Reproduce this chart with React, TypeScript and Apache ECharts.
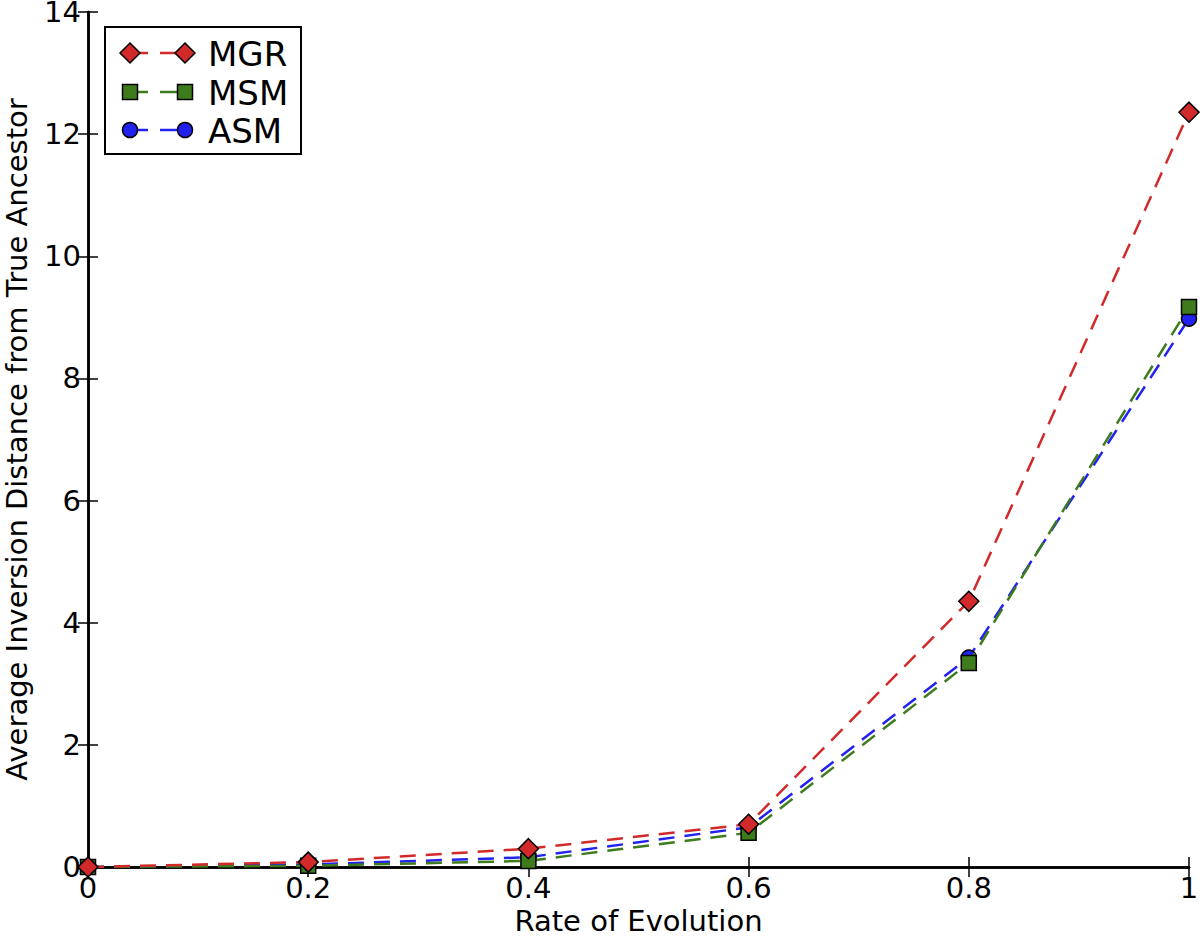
import React, { useEffect, useRef } from "react";
import * as echarts from "echarts";

const xValues = [0, 0.2, 0.4, 0.6, 0.8, 1.0];
const mgr = [0, 0.08, 0.3, 0.7, 4.35, 12.36];
const msm = [0, 0.02, 0.1, 0.56, 3.34, 9.17];
const asm = [0, 0.04, 0.16, 0.65, 3.43, 8.98];

const colors = { MGR: "#d22a2a", MSM: "#3d7b1c", ASM: "#2222f0" };
const FONT = "DejaVu Sans";

const pairs = (ys: number[]) => xValues.map((x, i) => [x, ys[i]]);

export default function App() {
  const ref = useRef<HTMLDivElement>(null);
  useEffect(() => {
    const chart = echarts.init(ref.current!, null, { renderer: "svg" });
    const axisLine = { show: true, lineStyle: { color: "#000", width: 2.5 } };
    const tick = { show: true, inside: true, length: 10, lineStyle: { color: "#000", width: 1.5 } };
    const lineStyle = (c: string) => ({ color: c, width: 2.5, type: [16, 10] as any });

    const legendRows = [
      { name: "MGR", y: 53 },
      { name: "MSM", y: 92 },
      { name: "ASM", y: 130 },
    ];
    const legendEls: any[] = [
      {
        type: "rect",
        shape: { x: 105, y: 27, width: 196, height: 127 },
        style: { fill: "#fff", stroke: "#000", lineWidth: 2 },
        z: 100,
      },
    ];
    legendRows.forEach((r) => {
      const c = (colors as any)[r.name];
      legendEls.push({ type: "line", shape: { x1: 136, y1: r.y, x2: 148, y2: r.y }, style: { stroke: c, lineWidth: 2.5 }, z: 101 });
      legendEls.push({ type: "line", shape: { x1: 160, y1: r.y, x2: 180, y2: r.y }, style: { stroke: c, lineWidth: 2.5 }, z: 101 });
      [130, 185].forEach((cx) => {
        let el: any;
        if (r.name === "MGR") {
          el = { type: "polygon", shape: { points: [[cx - 10, r.y], [cx, r.y - 10], [cx + 10, r.y], [cx, r.y + 10]] } };
        } else if (r.name === "MSM") {
          el = { type: "rect", shape: { x: cx - 7.5, y: r.y - 7.5, width: 15, height: 15 } };
        } else {
          el = { type: "circle", shape: { cx, cy: r.y, r: 7.5 } };
        }
        el.style = { fill: c, stroke: "#000", lineWidth: 1.5 };
        el.z = 102;
        legendEls.push(el);
      });
      legendEls.push({
        type: "text",
        x: 208,
        y: r.y + 1,
        style: { text: r.name, font: `34px '${FONT}'`, fill: "#000", verticalAlign: "middle", textAlign: "left" },
        z: 103,
      });
    });

    chart.setOption({
      animation: false,
      backgroundColor: "#fff",
      textStyle: { fontFamily: FONT },
      grid: { left: 88, right: 11, top: 12, bottom: 69, containLabel: false, outerBoundsMode: "none" },
      xAxis: [
        {
          type: "value",
          min: 0,
          max: 1,
          interval: 0.2,
          position: "bottom",
          axisLine,
          axisTick: tick,
          splitLine: { show: false },
          axisLabel: {
            color: "#000",
            fontSize: 29,
            fontFamily: FONT,
            margin: 6,
            formatter: (v: number) => (v === 0 ? "0" : v === 1 ? "1" : v.toFixed(1)),
          },
          name: "Rate of Evolution",
          nameLocation: "middle",
          nameGap: 39,
          nameTextStyle: { color: "#000", fontSize: 29, lineHeight: 24, fontFamily: FONT },
        },
        {
          type: "value",
          min: 0,
          max: 1,
          interval: 0.2,
          position: "top",
          axisLine,
          axisTick: tick,
          splitLine: { show: false },
          axisLabel: { show: false },
        },
      ],
      yAxis: [
        {
          type: "value",
          min: 0,
          max: 14,
          interval: 2,
          position: "left",
          axisLine,
          axisTick: tick,
          splitLine: { show: false },
          axisLabel: { color: "#000", fontSize: 29, lineHeight: 22, fontFamily: FONT, margin: 7 },
          name: "Average Inversion Distance from True Ancestor",
          nameLocation: "middle",
          nameGap: 59,
          nameTextStyle: { color: "#000", fontSize: 29, lineHeight: 24, fontFamily: FONT },
        },
        {
          type: "value",
          min: 0,
          max: 14,
          interval: 2,
          position: "right",
          axisLine,
          axisTick: tick,
          splitLine: { show: false },
          axisLabel: { show: false },
        },
      ],
      series: [
        {
          name: "ASM",
          type: "line",
          data: pairs(asm),
          symbol: "circle",
          symbolSize: 15,
          lineStyle: lineStyle(colors.ASM),
          itemStyle: { color: colors.ASM, borderColor: "#000", borderWidth: 1.5 },
          z: 2,
        },
        {
          name: "MSM",
          type: "line",
          data: pairs(msm),
          symbol: "rect",
          symbolSize: 15,
          lineStyle: lineStyle(colors.MSM),
          itemStyle: { color: colors.MSM, borderColor: "#000", borderWidth: 1.5 },
          z: 3,
        },
        {
          name: "MGR",
          type: "line",
          data: pairs(mgr),
          symbol: "diamond",
          symbolSize: 20,
          lineStyle: lineStyle(colors.MGR),
          itemStyle: { color: colors.MGR, borderColor: "#000", borderWidth: 1.5 },
          z: 4,
        },
      ],
      graphic: legendEls,
    });
    return () => chart.dispose();
  }, []);
  return (
    <div
      ref={ref}
      style={{ position: "fixed", left: 0, top: 0, width: 1200, height: 936, background: "#fff" }}
    />
  );
}
